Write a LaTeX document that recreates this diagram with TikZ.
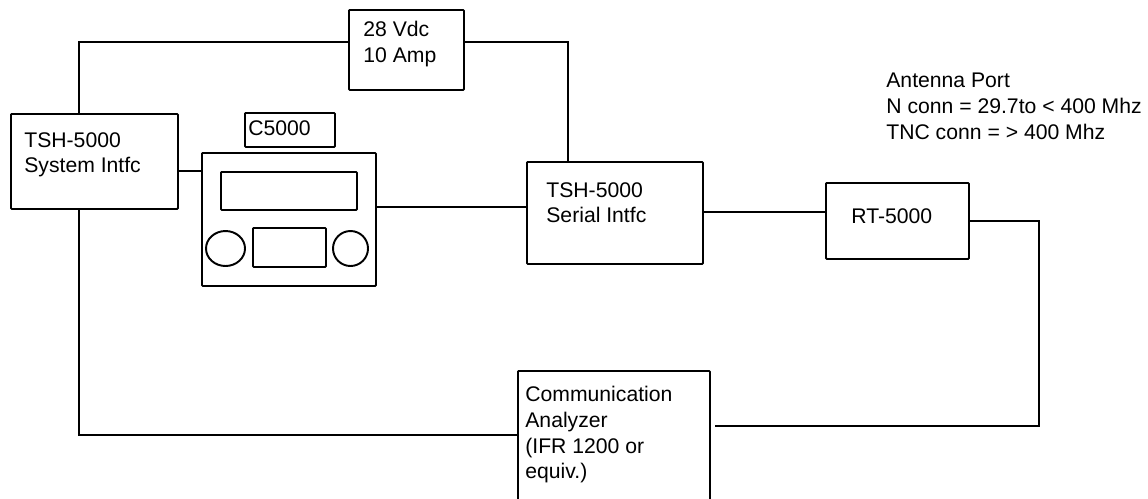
\documentclass[tikz,border=0pt]{standalone}
\usepackage{fontspec}
\setmainfont{Liberation Sans}
\usetikzlibrary{calc,shapes.geometric}
\def\U{0.02cm}
\tikzset{
 boxn/.style args={#1x#2}{draw=black,line width=1.1pt,anchor=north west,inner sep=0pt,minimum width=#1*\U,minimum height=#2*\U,rounded corners=0.5pt},
 lbl/.style={anchor=north west,inner sep=0pt,font=\fontsize{12.05pt}{14.6pt}\selectfont,align=left,text=black},
 wire/.style={draw=black,line width=1.1pt}
}
\begin{document}
\begin{tikzpicture}[x=0.02cm,y=-0.02cm]
\useasboundingbox (0,0) rectangle (1148,498);
\begin{scope}
\clip (0,0) rectangle (1148,498);
\node[boxn=192x140] (ca) at (517,370) {};
\end{scope}
\node[boxn=115x80] (vdc) at (348,9) {};
\node[boxn=167x95] (sys) at (10,113) {};
\node[boxn=90x34] (c5k) at (244,112) {};
\node[boxn=174x133] (radio) at (201,152) {};
\node[boxn=136x38] (disp) at (220,171) {};
\node[boxn=73x39] (mid) at (252,227) {};
\node[draw=black,line width=1.1pt,ellipse,minimum width=39*\U,minimum height=35*\U,inner sep=0pt] (cl) at (225.5,248.5) {};
\node[draw=black,line width=1.1pt,ellipse,minimum width=35*\U,minimum height=35*\U,inner sep=0pt] (cr) at (350.5,248.5) {};
\node[boxn=176x102] (ser) at (526,161) {};
\node[boxn=143x76] (rt) at (825,182) {};
\node[lbl] (t1) at (363,21) {28 Vdc\\10 Amp};
\node[lbl] (t2) at (24,132) {TSH-5000\\System Intfc};
\node[lbl] (t3) at (248,120) {C5000};
\node[lbl] (t4) at (546,182) {TSH-5000\\Serial Intfc};
\node[lbl] (t5) at (851,208) {RT-5000};
\node[lbl] (t6) at (525,386) {Communication\\Analyzer\\(IFR 1200 or\\equiv.)};
\node[lbl] (t7) at (886,73) {Antenna Port\\N conn = 29.7to < 400 Mhz\\TNC conn = > 400 Mhz};
\draw[wire] ($(sys.north west)+(69,0)$) |- ($(vdc.north west)+(0,33)$);
\draw[wire] ($(vdc.north east)+(0,33)$) -| ($(ser.north west)+(42,0)$);
\draw[wire] ($(sys.north east)+(0,58)$) -- ($(radio.north west)+(0,19)$);
\draw[wire] ($(radio.north east)+(0,55)$) -- ($(ser.north west)+(0,46)$);
\draw[wire] ($(ser.north east)+(0,51)$) -- ($(rt.north west)+(0,30)$);
\draw[wire] ($(rt.north east)+(0,39)$) -| ($(ca.north east)+(328,56)$) -- ($(ca.north east)+(4,56)$);
\draw[wire] ($(sys.south west)+(69,0)$) |- ($(ca.north west)+(0,65)$);
\end{tikzpicture}
\end{document}
